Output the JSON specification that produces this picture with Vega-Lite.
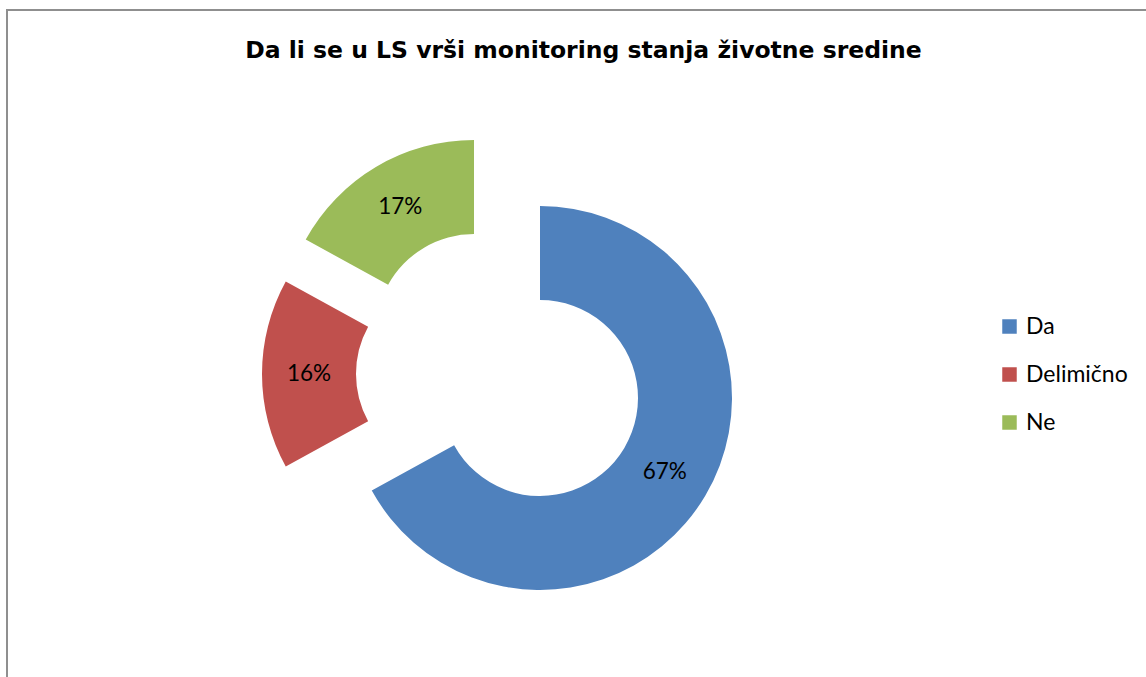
{
  "$schema": "https://vega.github.io/schema/vega-lite/v6.json",
  "autosize": {"type": "none"},
  "width": 1141,
  "height": 669,
  "padding": {"left": 7, "top": 10, "right": -2, "bottom": -2},
  "background": "white",
  "view": {"stroke": "#8f8f8f", "strokeWidth": 2, "fill": "white"},
  "config": {
    "view": {"stroke": "#8f8f8f", "strokeWidth": 2},
    "legend": {"padding": 0}
  },
  "title": {
    "text": "Da li se u LS vrši monitoring stanja životne sredine",
    "font": "DejaVu Sans",
    "fontWeight": "bold",
    "fontSize": 23.5,
    "color": "black",
    "anchor": "middle",
    "baseline": "alphabetic",
    "offset": 0,
    "dy": 71,
    "dx": 6
  },
  "data": {
    "values": [
      {"cat": "Da", "value": 0.67},
      {"cat": "Delimično", "value": 0.16},
      {"cat": "Ne", "value": 0.17}
    ]
  },
  "encoding": {
    "theta": {"field": "value", "type": "quantitative", "stack": true},
    "order": {"field": "cat", "sort": "ascending"}
  },
  "layer": [
    {
      "mark": {"type": "arc", "radius": 192, "radius2": 98, "xOffset": -37.5, "yOffset": 53.5},
      "encoding": {
        "color": {
          "field": "cat", "type": "nominal",
          "scale": {"domain": ["Da", "Delimično", "Ne"], "range": ["#4F81BD", "#C0504D", "#9BBB59"]},
          "legend": {
            "orient": "none", "legendX": 991, "legendY": 305, "direction": "vertical",
            "symbolType": "square", "symbolSize": 210, "symbolStrokeWidth": 0,
            "labelFont": "Lato", "labelFontSize": 23, "labelColor": "black",
            "labelOffset": 5, "rowPadding": 24, "title": null
          }
        },
        "opacity": {"condition": {"test": "datum.cat === 'Da'", "value": 1}, "value": 0}
      }
    },
    {
      "mark": {"type": "arc", "radius": 192, "radius2": 98, "xOffset": -123.5, "yOffset": 29.5},
      "encoding": {
        "color": {"field": "cat", "type": "nominal"},
        "opacity": {"condition": {"test": "datum.cat === 'Delimično'", "value": 1}, "value": 0}
      }
    },
    {
      "mark": {"type": "arc", "radius": 192, "radius2": 98, "xOffset": -103.5, "yOffset": -12.5},
      "encoding": {
        "color": {"field": "cat", "type": "nominal"},
        "opacity": {"condition": {"test": "datum.cat === 'Ne'", "value": 1}, "value": 0}
      }
    },
    {
      "mark": {"type": "text", "radius": 145, "xOffset": -37.5, "yOffset": 53.5, "font": "Lato", "fontSize": 22.5, "color": "black"},
      "encoding": {
        "detail": {"field": "cat", "type": "nominal"},
        "text": {"field": "value", "type": "quantitative", "format": ".0%"},
        "opacity": {"condition": {"test": "datum.cat === 'Da'", "value": 1}, "value": 0}
      }
    },
    {
      "mark": {"type": "text", "radius": 145, "xOffset": -123.5, "yOffset": 29.5, "font": "Lato", "fontSize": 22.5, "color": "black"},
      "encoding": {
        "detail": {"field": "cat", "type": "nominal"},
        "text": {"field": "value", "type": "quantitative", "format": ".0%"},
        "opacity": {"condition": {"test": "datum.cat === 'Delimično'", "value": 1}, "value": 0}
      }
    },
    {
      "mark": {"type": "text", "radius": 145, "xOffset": -103.5, "yOffset": -12.5, "font": "Lato", "fontSize": 22.5, "color": "black"},
      "encoding": {
        "detail": {"field": "cat", "type": "nominal"},
        "text": {"field": "value", "type": "quantitative", "format": ".0%"},
        "opacity": {"condition": {"test": "datum.cat === 'Ne'", "value": 1}, "value": 0}
      }
    }
  ]
}
